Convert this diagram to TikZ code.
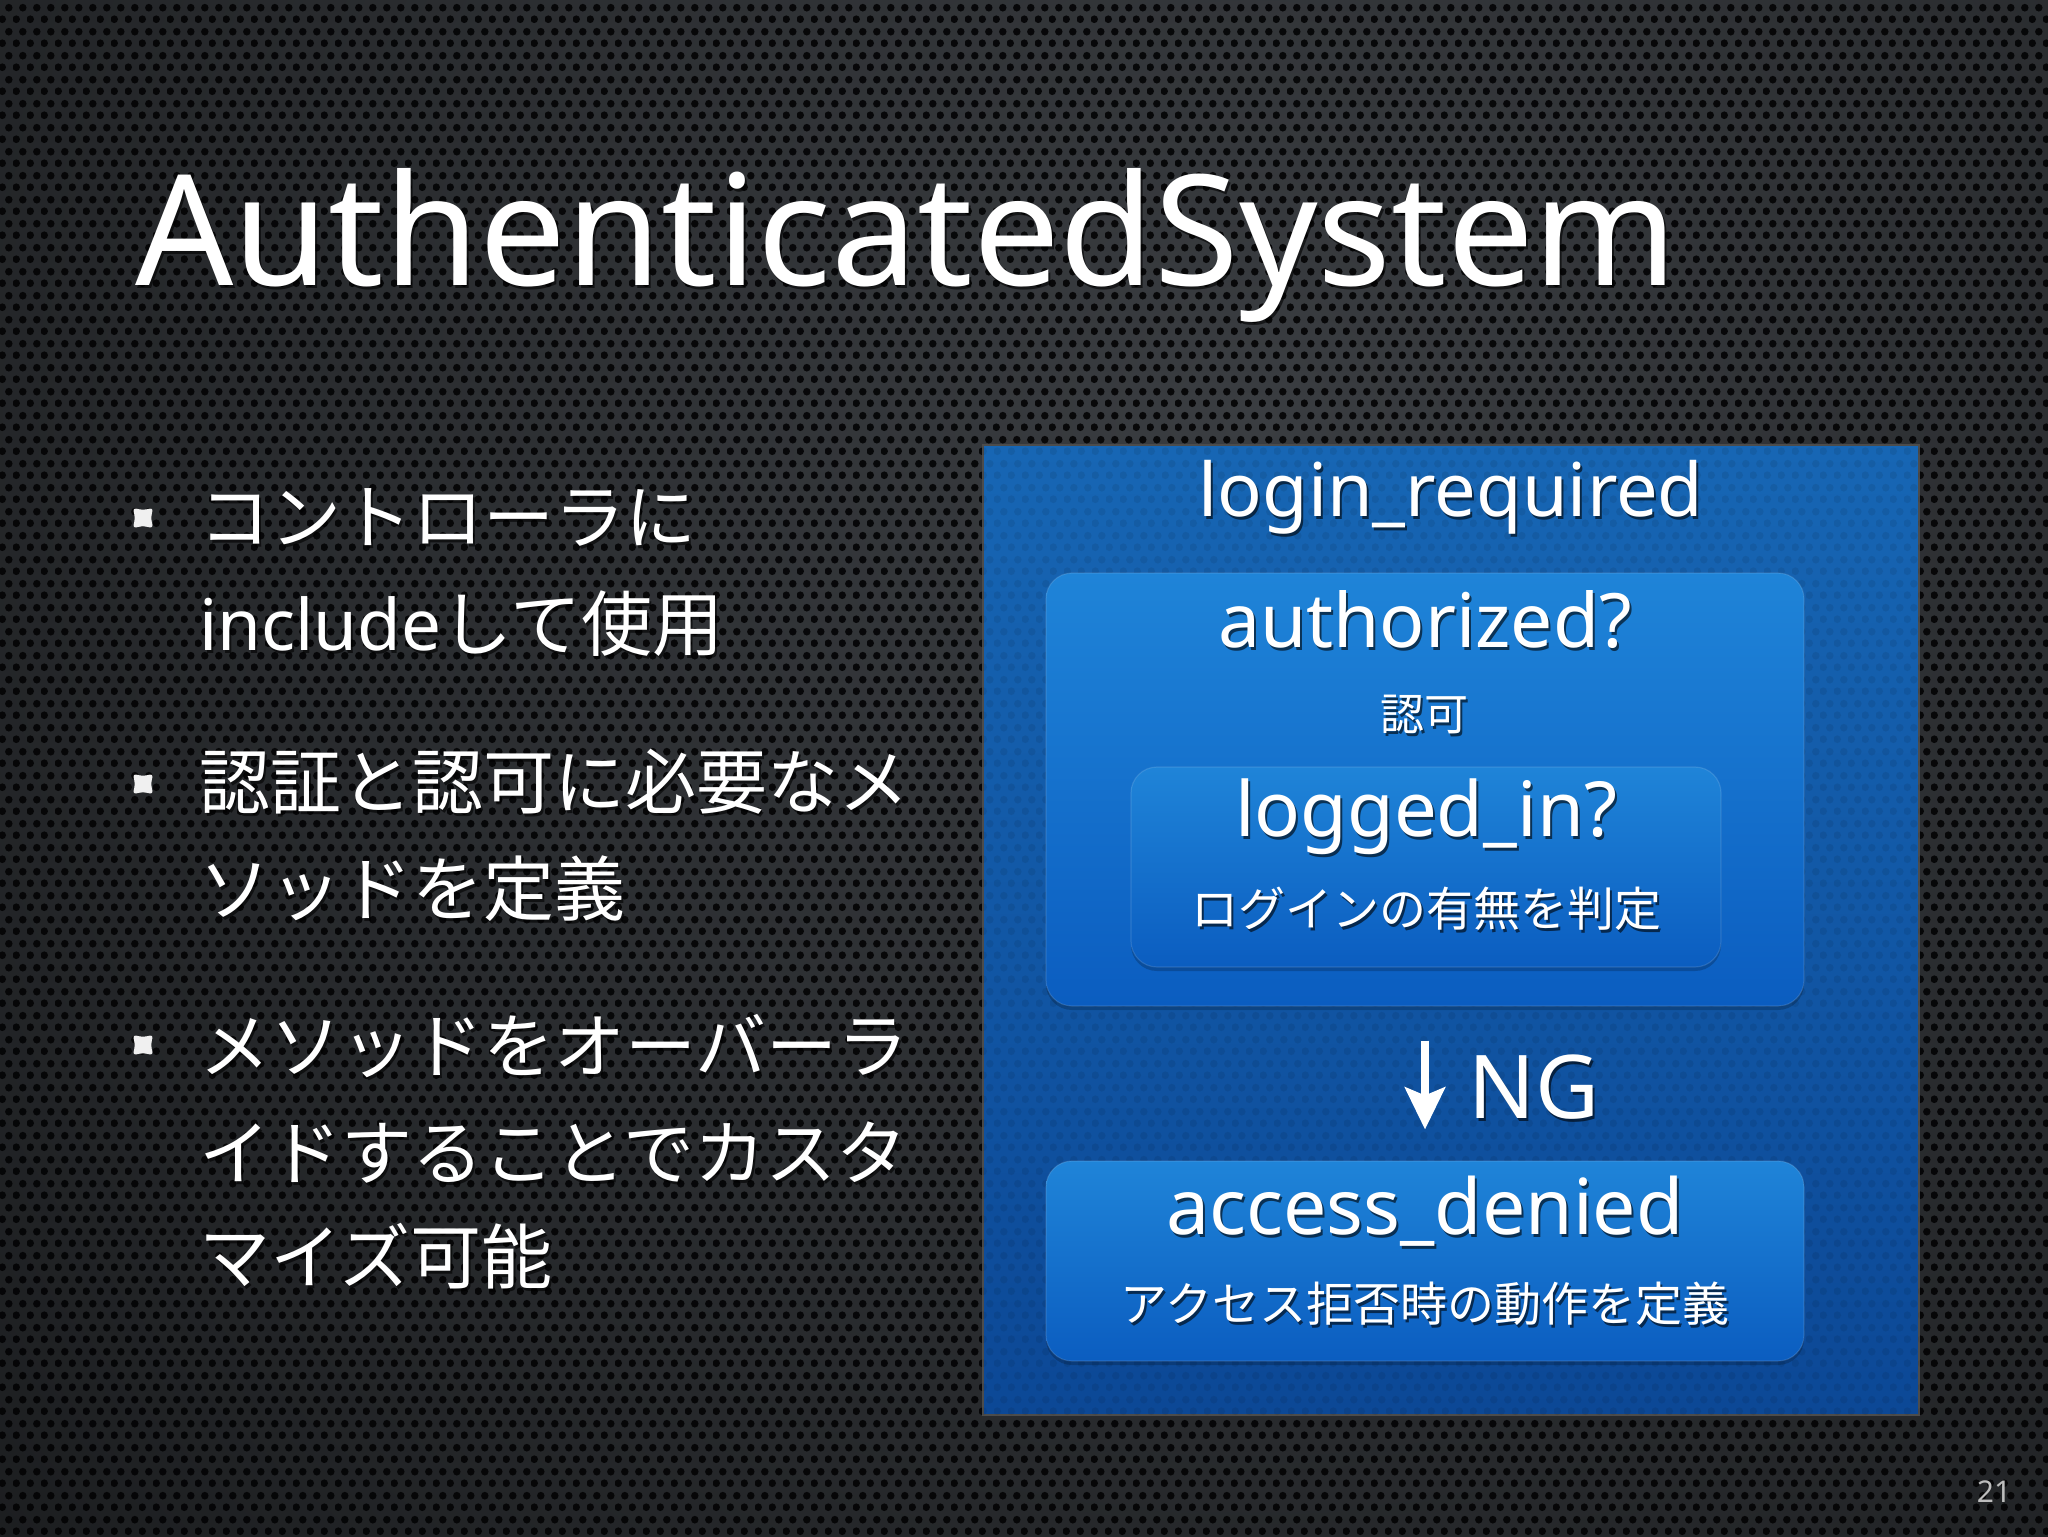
\documentclass[tikz,border=0pt]{standalone}
\usepackage{fontspec}
\setmainfont{Noto Sans CJK JP}
\newfontfamily\latin{Noto Sans}
\usetikzlibrary{patterns.meta,shadows,arrows.meta}
\definecolor{bgin}{HTML}{3A3D41}
\definecolor{bgout}{HTML}{08090A}
\definecolor{holec}{HTML}{030304}
\definecolor{paneltop}{HTML}{1766B4}
\definecolor{panelbot}{HTML}{0C4896}
\definecolor{boxtop}{HTML}{1F84D8}
\definecolor{boxbot}{HTML}{0B5DC0}
\definecolor{bulletc}{HTML}{F0F0F0}
\definecolor{pagenum}{HTML}{BDBDBD}
\tikzdeclarepattern{name=holes,type=uncolored,
  bounding box={(0pt,0pt) and (7pt,12pt)},tile size={(7pt,12pt)},
  code={\fill (1.75pt,3pt) circle (2pt); \fill (5.25pt,9pt) circle (2pt);}}
\newcommand\fsz[1]{\fontsize{#1}{#1}\selectfont}
% #1 position, #2 name, #3 anchor, #4 font, #5 text
\newcommand\stext[5]{%
  \node[txt,anchor=#3,font=#4,text=black,text opacity=.6,xshift=1pt,yshift=-1.5pt] (#2s) at (#1) {#5};
  \node[txt,anchor=#3,font=#4] (#2) at (#1) {#5};}
\tikzset{
  txt/.style={text=white,inner sep=0pt},
  panel/.style={top color=paneltop,bottom color=panelbot,draw=black!70,line width=0.6pt,inner sep=0pt},
  rbox/.style={rounded corners=13pt,top color=boxtop,bottom color=boxbot,draw=white,draw opacity=.12,line width=0.6pt,inner sep=0pt,
     drop shadow={shadow xshift=0pt,shadow yshift=-2pt,opacity=.2,fill=black}},
  bul/.style={fill=bulletc,rounded corners=1.5pt},
  ngarrow/.style={draw=white,line width=4pt,-{Stealth[length=21pt,width=20pt,inset=4pt]}},
}
\begin{document}
\begin{tikzpicture}[x=0.5pt,y=-0.5pt]
\useasboundingbox (0,0) rectangle (2048,1536);
% background
\begin{scope}
\clip (0,0) rectangle (2048,1536);
\fill[bgout] (0,0) rectangle (2048,1536);
\shade[inner color=bgin,outer color=bgout] (1250-2800,420-2800) rectangle (1250+2800,420+2800);
\fill[pattern=holes,pattern color=holec,fill opacity=.9] (0,0) rectangle (2048,1536);
\end{scope}

% title
\stext{135,285}{title}{base west}{\latin\fsz{77pt}}{AuthenticatedSystem}

% bullets
\foreach \yy in {518,784,1045}{
  \fill[bul,shift={(143,\yy)}] (-10,-10) -- (0,-8) -- (10,-10) -- (8,0) -- (10,10)
     -- (0,8) -- (-10,10) -- (-8,0) -- cycle;
}
\stext{199,543}{l1}{base west}{\fsz{35.5pt}}{コントローラに}
\stext{199,650}{l2}{base west}{\fsz{35.5pt}}{{\latin include}して使用}
\stext{199,808}{l3}{base west}{\fsz{35.5pt}}{認証と認可に必要なメ}
\stext{199,915}{l4}{base west}{\fsz{35.5pt}}{ソッドを定義}
\stext{199,1072}{l5}{base west}{\fsz{35.5pt}}{メソッドをオーバーラ}
\stext{199,1179}{l6}{base west}{\fsz{35.5pt}}{イドすることでカスタ}
\stext{199,1283}{l7}{base west}{\fsz{35.5pt}}{マイズ可能}

% panel
\node[panel,minimum width=468pt,minimum height=485pt] (panel) at (1451,930) {};
\begin{scope}
\clip (panel.south west) rectangle (panel.north east);
\fill[pattern=holes,pattern color=black,fill opacity=.08] (panel.south west) rectangle (panel.north east);
\end{scope}
\stext{1451,516}{req}{base}{\latin\fsz{37pt}}{login\_required}

\node[rbox,minimum width=379pt,minimum height=216.5pt] (auth) at (1425,789.5) {};
\stext{1425,647}{authT}{base}{\latin\fsz{37.5pt}}{authorized?}
\stext{1424,730}{authJ}{base}{\fsz{22pt}}{認可}

\node[rbox,minimum width=295pt,minimum height=100pt] (login) at (1426,867) {};
\stext{1426,836}{loginT}{base}{\latin\fsz{38pt}}{logged\_in?}
\stext{1426,926}{loginJ}{base}{\fsz{23.5pt}}{ログインの有無を判定}

\node[rbox,minimum width=379pt,minimum height=100pt] (deny) at (1425,1261) {};
\stext{1425,1234}{denyT}{base}{\latin\fsz{38.5pt}}{access\_denied}
\stext{1425,1321}{denyJ}{base}{\fsz{23.5pt}}{アクセス拒否時の動作を定義}

\draw[ngarrow,shorten <=17pt,shorten >=15.5pt] (auth.south) -- (deny.north);
\stext{1468,1118}{ng}{base west}{\latin\fsz{44pt}}{NG}

% page number
\node[txt,text=pagenum,font=\latin\fsz{15pt}] (page) at (1994,1492) {21};
\end{tikzpicture}
\end{document}
